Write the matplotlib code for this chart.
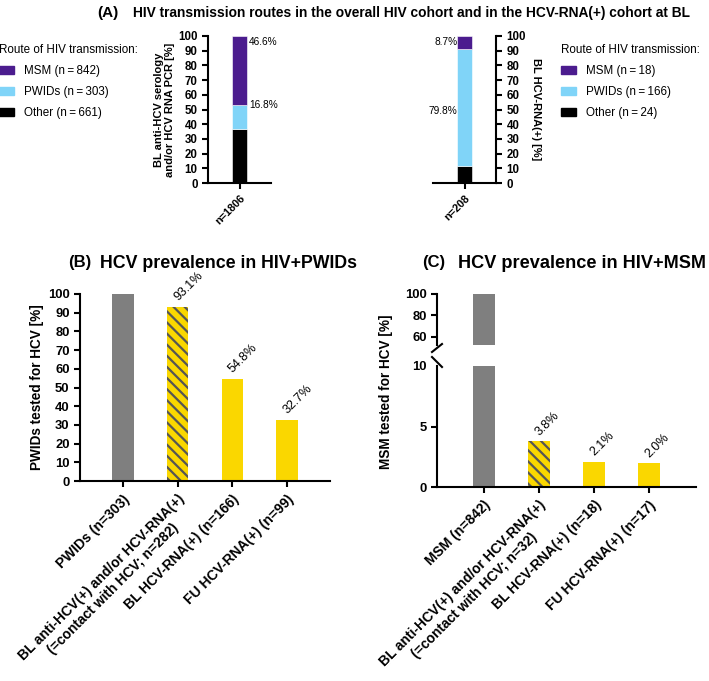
import matplotlib.pyplot as plt
from matplotlib.patches import Patch
import numpy as np

plt.rcParams['font.family'] = ['Liberation Sans', 'DejaVu Sans']
plt.rcParams['hatch.linewidth'] = 1.6

W, H = 709, 681

# panel A data
routes = ['MSM', 'PWIDs', 'Other']
all_n = [842, 303, 661]
all_pct = [46.6, 16.8, 36.6]
rna_n = [18, 166, 24]
rna_pct = [8.7, 79.8, 11.5]
route_colors = ['#4B1C8E', '#80D4F8', '#000000']

# panel B data
pwid_labels = ['PWIDs (n=303)',
               'BL anti-HCV(+) and/or HCV-RNA(+)\n(=contact with HCV; n=282)',
               'BL HCV-RNA(+) (n=166)',
               'FU HCV-RNA(+) (n=99)']
pwid_vals = [100, 93.1, 54.8, 32.7]

# panel C data
msm_labels = ['MSM (n=842)',
              'BL anti-HCV(+) and/or HCV-RNA(+)\n(=contact with HCV; n=32)',
              'BL HCV-RNA(+) (n=18)',
              'FU HCV-RNA(+) (n=17)']
msm_vals = [100, 3.8, 2.1, 2.0]

GRAY = '#7F7F7F'
YELLOW = '#FAD700'


def ax_px(x0, y0, x1, y1):
    return fig.add_axes([x0 / W, 1 - y1 / H, (x1 - x0) / W, (y1 - y0) / H])


def style(ax, sides=('left', 'bottom')):
    for s in ['left', 'right', 'top', 'bottom']:
        ax.spines[s].set_visible(s in sides)
        ax.spines[s].set_linewidth(1.5)
    ax.tick_params(width=1.5, length=4)


def bold_ticks(ax, size):
    for tk in ax.yaxis.get_major_ticks():
        for lab in (tk.label1, tk.label2):
            lab.set_fontweight('bold')
            lab.set_fontsize(size)


fig = plt.figure(figsize=(W / 100, H / 100), dpi=100)

# ---------- panel A ----------
fig.text(97 / W, 1 - 13 / H, '(A)', fontsize=11, fontweight='bold', va='center')
fig.text(133 / W, 1 - 13 / H,
         'HIV transmission routes in the overall HIV cohort and in the HCV-RNA(+) cohort at BL',
         fontsize=9.95, fontweight='bold', va='center')

for side, pct, n_tot, x0 in [('left', all_pct, 1806, 208), ('right', rna_pct, 208, 433)]:
    ax = ax_px(x0, 36, x0 + 63, 183)
    bottom = 0
    for i in [2, 1, 0]:
        ax.bar(0, pct[i], 0.47, bottom=bottom, color=route_colors[i],
               edgecolor='white', linewidth=0.4)
        bottom += pct[i]
    ax.set_xlim(-1, 1)
    ax.set_ylim(0, 100)
    ax.set_yticks(np.arange(0, 101, 10))
    ax.set_xticks([0])
    ax.set_xticklabels([f'n={n_tot}'], rotation=45, ha='right',
                       rotation_mode='anchor', fontsize=7.8, fontweight='bold')
    if side == 'left':
        style(ax, ('left', 'bottom'))
        ax.set_ylabel('BL anti-HCV serology\nand/or HCV RNA PCR [%]',
                      fontsize=8, fontweight='bold', labelpad=2)
        ax.text(0.3, 100 - 4, f'{pct[0]}%', fontsize=7.3, va='center')
        ax.text(0.3, pct[2] + pct[1], f'{pct[1]}%', fontsize=7.3, va='center')
    else:
        style(ax, ('right', 'bottom'))
        ax.yaxis.tick_right()
        ax.yaxis.set_label_position('right')
        ax.set_ylabel('BL HCV-RNA(+) [%]', rotation=270, fontsize=8,
                      fontweight='bold', labelpad=11)
        ax.text(-0.23, 100 - 4, f'{pct[0]}%', fontsize=7.3, va='center', ha='right')
        ax.text(-0.23, 49, f'{pct[1]}%', fontsize=7.3, va='center', ha='right')
    bold_ticks(ax, 8.3)

    handles = [Patch(color=route_colors[i]) for i in range(3)]
    ns = all_n if side == 'left' else rna_n
    labels = [f'{routes[i]} (n\u2009=\u2009{ns[i]})' for i in range(3)]
    lx = -1 if side == 'left' else 561
    fig.legend(handles, labels, loc='upper left',
               bbox_to_anchor=(lx / W, 1 - 44 / H), frameon=False,
               title='Route of HIV transmission:', fontsize=8.4,
               title_fontsize=8.4, handlelength=1.3, handleheight=0.6,
               labelspacing=0.78, borderaxespad=0, borderpad=0,
               handletextpad=0.85, alignment='left')

# ---------- panel B ----------
fig.text(68 / W, 1 - 263 / H, '(B)', fontsize=12, fontweight='bold', va='center')
fig.text(100 / W, 1 - 263 / H, 'HCV prevalence in HIV+PWIDs', fontsize=12.8,
         fontweight='bold', va='center')

axb = ax_px(80, 294, 330, 481)
xb = np.arange(len(pwid_vals))
for i, v in enumerate(pwid_vals):
    if i == 0:
        axb.bar(xb[i], v, 0.39, color=GRAY)
    elif i == 1:
        axb.bar(xb[i], v, 0.39, color=YELLOW, edgecolor='#555555',
                hatch='\\\\\\', linewidth=0)
    else:
        axb.bar(xb[i], v, 0.39, color=YELLOW)
    if i > 0:
        axb.text(xb[i] + 0.05, v + 2, f'{v}%', rotation=45, fontsize=9,
                 ha='left', va='bottom', rotation_mode='anchor')
axb.set_xlim(-0.79, 3.79)
axb.set_ylim(0, 100)
axb.set_yticks(np.arange(0, 101, 10))
style(axb)
axb.tick_params(axis='x', pad=4)
axb.set_xticks(xb)
axb.set_xticklabels(pwid_labels, rotation=45, ha='right', rotation_mode='anchor',
                    fontsize=10, fontweight='bold', multialignment='center')
bold_ticks(axb, 9.4)
axb.set_ylabel('PWIDs tested for HCV [%]', fontsize=9.8, fontweight='bold',
               labelpad=3)

# ---------- panel C ----------
fig.text(422 / W, 1 - 263 / H, '(C)', fontsize=12, fontweight='bold', va='center')
fig.text(458 / W, 1 - 263 / H, 'HCV prevalence in HIV+MSM', fontsize=13.1,
         fontweight='bold', va='center')

axt = ax_px(437, 294, 696, 345)
axc = ax_px(437, 366, 696, 487)
xc = np.arange(len(msm_vals))
for a in (axt, axc):
    for i, v in enumerate(msm_vals):
        if i == 0:
            a.bar(xc[i], v, 0.4, color=GRAY)
        elif i == 1:
            a.bar(xc[i], v, 0.4, color=YELLOW, edgecolor='#555555',
                  hatch='\\\\\\', linewidth=0)
        else:
            a.bar(xc[i], v, 0.4, color=YELLOW)
    a.set_xlim(-0.85, 3.85)
for i, v in enumerate(msm_vals):
    if i > 0:
        axc.text(xc[i] + 0.05, v + 0.25, f'{v}%', rotation=45, fontsize=9,
                 ha='left', va='bottom', rotation_mode='anchor')
axt.set_ylim(52, 100)
axt.set_yticks([60, 80, 100])
style(axt, ('left',))
axt.set_xticks([])
axc.set_ylim(0, 10)
axc.set_yticks([0, 5, 10])
style(axc)
axc.yaxis.get_major_ticks()[2].tick1line.set_visible(False)
axc.tick_params(axis='x', pad=4)
axc.set_xticks(xc)
axc.set_xticklabels(msm_labels, rotation=45, ha='right', rotation_mode='anchor',
                    fontsize=10, fontweight='bold', multialignment='center')
bold_ticks(axt, 9.4)
bold_ticks(axc, 9.4)
fig.text(386 / W, 1 - 392 / H, 'MSM tested for HCV [%]', rotation=90,
         fontsize=9.8, fontweight='bold', va='center', ha='center')

# break marks on the y axis
fig.add_artist(plt.Line2D([432 / W, 442 / W], [1 - 352 / H, 1 - 344 / H],
                          color='black', lw=1.5))
fig.add_artist(plt.Line2D([432 / W, 442 / W], [1 - 357 / H, 1 - 367 / H],
                          color='black', lw=1.5))

fig.savefig('out.png', dpi=100)
